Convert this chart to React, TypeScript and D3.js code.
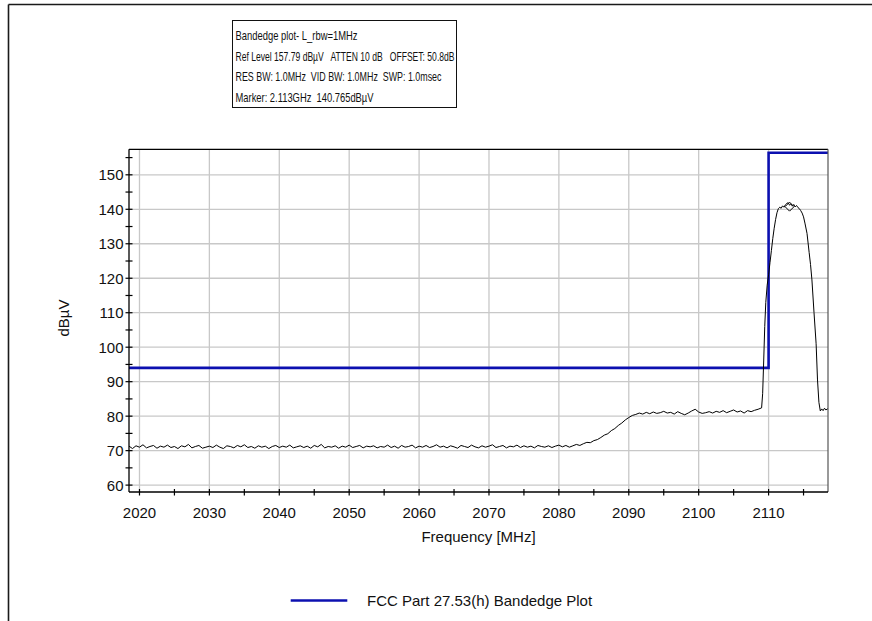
import React from 'react';
import * as d3 from 'd3';

const W = 872;
const H = 621;
const FONT = '"Liberation Sans", Arial, sans-serif';

// Axis setup
const xDomain: [number, number] = [2018.5, 2118.5];
const yDomain: [number, number] = [58.0, 157.4];
const xTicks = [2020, 2030, 2040, 2050, 2060, 2070, 2080, 2090, 2100, 2110];
const xMinorTicks = [2020, 2025, 2030, 2035, 2040, 2045, 2050, 2055, 2060, 2065, 2070, 2075, 2080, 2085, 2090, 2095, 2100, 2105, 2110, 2115];
const yTicks = [60, 70, 80, 90, 100, 110, 120, 130, 140, 150];
const yMinorTicks = [60, 65, 70, 75, 80, 85, 90, 95, 100, 105, 110, 115, 120, 125, 130, 135, 140, 145, 150, 155];

// Measured trace: noise floor and out-of-band region, 0.5 MHz sweep points
const floorStart = 2018.5;
const floorStep = 0.5;
const floorLevels = [
  71.3, 70.6, 71.4, 71.0, 71.7, 70.8, 71.2, 71.5, 70.7, 71.3,
  71.0, 71.6, 70.9, 71.2, 70.6, 71.4, 71.1, 71.8, 70.8, 71.2,
  71.5, 70.7, 71.0, 71.3, 70.9, 71.6, 71.0, 70.6, 71.4, 71.2,
  70.8, 71.5, 71.1, 71.7, 70.9, 71.2, 70.7, 71.4, 71.0, 71.3,
  70.6, 71.2, 71.5, 70.9, 71.3, 71.0, 71.6, 70.8, 71.1, 71.4,
  70.9, 71.3, 70.7, 71.5, 71.1, 71.8, 70.8, 71.2, 71.0, 71.4,
  70.7, 71.3, 71.0, 71.6, 70.9, 71.2, 71.5, 70.8, 71.3, 71.1,
  71.4, 70.8, 71.2, 71.0, 71.6, 70.9, 71.3, 70.7, 71.5, 71.0,
  71.2, 71.6, 70.8, 71.3, 71.0, 71.5, 70.9, 71.2, 71.7, 71.0,
  71.3, 70.8, 71.4, 71.1, 70.7, 71.5, 71.2, 70.9, 71.6, 71.1,
  70.8, 71.4, 71.0, 71.3, 71.7, 70.9, 71.2, 71.5, 70.8, 71.3,
  71.1, 71.6, 70.9, 71.4, 71.0, 71.3, 70.8, 71.5, 71.2, 71.0,
  71.4, 70.9, 71.3, 71.6, 71.1, 71.5, 71.0, 71.4, 71.8, 71.5,
  72.0, 72.4, 72.3, 72.9, 73.2, 73.8, 74.5, 74.9, 75.8, 76.4,
  77.3, 78.0, 78.9, 79.6, 80.2, 80.5, 80.9, 80.6, 81.1, 80.7,
  81.2, 80.8, 81.0, 81.4, 80.9, 81.1, 80.6, 81.3, 80.8, 80.4,
  80.9, 81.5, 82.0, 81.2, 80.8, 81.0, 81.3, 80.9, 81.4, 81.1,
  81.6, 81.0, 81.4, 81.8, 81.2, 81.5, 80.9, 81.6, 81.3, 81.7,
  82.0, 82.4,
];

// Carrier region, finer sweep points [MHz, dBµV]
const carrierTrace: [number, number][] = [
  [2109.15, 86.5], [2109.3, 96.0], [2109.45, 106.0], [2109.6, 113.0], [2109.8, 118.0],
  [2110.0, 121.0], [2110.2, 124.5], [2110.4, 128.0], [2110.6, 131.5], [2110.8, 134.5],
  [2111.0, 137.0], [2111.2, 139.0], [2111.4, 140.2], [2111.6, 140.6], [2111.8, 140.3],
  [2112.0, 141.0], [2112.2, 140.6], [2112.4, 141.3], [2112.6, 141.7], [2112.8, 141.9],
  [2113.0, 141.2], [2113.2, 141.6], [2113.4, 140.9], [2113.6, 141.4], [2113.8, 140.7],
  [2114.0, 141.1], [2114.2, 140.5], [2114.4, 140.2], [2114.6, 139.6], [2114.8, 138.9],
  [2115.0, 137.8], [2115.2, 136.0], [2115.5, 133.0], [2115.8, 127.5], [2116.0, 124.0],
  [2116.2, 119.5], [2116.5, 110.0], [2116.8, 101.0], [2117.0, 90.5], [2117.2, 84.0],
  [2117.4, 81.5], [2117.6, 82.1], [2117.8, 81.6], [2118.0, 82.3], [2118.2, 81.8],
  [2118.5, 82.2],
];

// FCC Part 27.53(h) limit [MHz, dBµV]
const limitLine: [number, number][] = [
  [2018.5, 94.0], [2110.0, 94.0], [2110.0, 156.4], [2118.5, 156.4],
];

const markerFreq = 2113.0;
const markerLevel = 140.765;

const infoLines = [
  'Bandedge plot- L_rbw=1MHz',
  'Ref Level 157.79 dBµV   ATTEN 10 dB   OFFSET: 50.8dB',
  'RES BW: 1.0MHz  VID BW: 1.0MHz  SWP: 1.0msec',
  'Marker: 2.113GHz  140.765dBµV',
];
const infoWidths = [122, 219, 206, 138];
const legendLabel = 'FCC Part 27.53(h) Bandedge Plot';
const xTitle = 'Frequency [MHz]';
const yTitle = 'dBµV';

const plot = { left: 129, right: 828, top: 149.3, bottom: 492 };
const limitColor = '#0c10b0';

export default function App() {
  const x = d3.scaleLinear().domain(xDomain).range([plot.left, plot.right]);
  const y = d3.scaleLinear().domain(yDomain).range([plot.bottom, plot.top]);

  const trace: [number, number][] = floorLevels
    .map((v, i) => [floorStart + i * floorStep, v] as [number, number])
    .concat(carrierTrace);

  const line = d3
    .line<[number, number]>()
    .x((d) => x(d[0]))
    .y((d) => y(d[1]));

  const mx = x(markerFreq);
  const my = y(markerLevel);

  return (
    <svg
      width={W}
      height={H}
      style={{ position: 'absolute', left: 0, top: 0, background: '#fff' }}
      fontFamily={FONT}
    >
      <defs>
        <clipPath id="plotClip">
          <rect x={plot.left} y={plot.top} width={plot.right - plot.left} height={plot.bottom - plot.top} />
        </clipPath>
      </defs>

      {/* outer frame */}
      <line x1={8.5} y1={4.5} x2={W} y2={4.5} stroke="#1a1a1a" strokeWidth={1.6} />
      <line x1={8.5} y1={4.5} x2={8.5} y2={H} stroke="#1a1a1a" strokeWidth={1.6} />

      {/* info box */}
      <rect x={232.5} y={20.5} width={224} height={87} fill="#fff" stroke="#111" strokeWidth={1} />
      {infoLines.map((t, i) => (
        <text
          key={i}
          x={235.5}
          y={40 + i * 20.6}
          fontSize={13}
          fill="#111"
          textLength={infoWidths[i]}
          lengthAdjust="spacingAndGlyphs"
          style={{ whiteSpace: 'pre' }}
        >
          {t}
        </text>
      ))}

      {/* grid */}
      {xTicks.map((t) => (
        <line key={'gx' + t} x1={x(t)} x2={x(t)} y1={plot.top} y2={plot.bottom} stroke="#c8c8c8" strokeWidth={1.3} />
      ))}
      {yTicks.map((t) => (
        <line key={'gy' + t} x1={plot.left} x2={plot.right} y1={y(t)} y2={y(t)} stroke="#c8c8c8" strokeWidth={1.3} />
      ))}

      {/* limit line and trace */}
      <g clipPath="url(#plotClip)">
        <path d={line(limitLine) || ''} fill="none" stroke={limitColor} strokeWidth={2.6} />
        <path d={line(trace) || ''} fill="none" stroke="#000" strokeWidth={1} />
        <path
          d={`M${mx},${my - 4.5}L${mx + 4.5},${my}L${mx},${my + 4.5}L${mx - 4.5},${my}Z`}
          fill="none"
          stroke="#000"
          strokeWidth={1}
        />
      </g>

      {/* plot frame */}
      <line x1={plot.left} x2={plot.right} y1={plot.top} y2={plot.top} stroke="#000" strokeWidth={1.2} />
      <line x1={plot.right} x2={plot.right} y1={plot.top} y2={plot.bottom} stroke="#555" strokeWidth={1.2} />
      <line x1={plot.left} x2={plot.left} y1={plot.top} y2={plot.bottom} stroke="#000" strokeWidth={1.3} />
      <line x1={plot.left} x2={plot.right} y1={plot.bottom} y2={plot.bottom} stroke="#000" strokeWidth={1.3} />

      {/* y ticks */}
      {yMinorTicks.map((t) => (
        <line key={'ty' + t} x1={plot.left - 3.5} x2={plot.left + 3.5} y1={y(t)} y2={y(t)} stroke="#000" strokeWidth={1.2} />
      ))}
      {yTicks.map((t) => (
        <text key={'ly' + t} x={123.5} y={y(t)} dy="0.36em" textAnchor="end" fontSize={15} fill="#111">
          {t}
        </text>
      ))}

      {/* x ticks */}
      {xMinorTicks.map((t) => (
        <line key={'tx' + t} x1={x(t)} x2={x(t)} y1={plot.bottom - 3} y2={plot.bottom + 3.5} stroke="#000" strokeWidth={1.2} />
      ))}
      {xTicks.map((t) => (
        <text key={'lx' + t} x={x(t)} y={518} textAnchor="middle" fontSize={15} fill="#111">
          {t}
        </text>
      ))}

      {/* axis titles */}
      <text x={(plot.left + plot.right) / 2} y={542} textAnchor="middle" fontSize={15} fill="#111">
        {xTitle}
      </text>
      <text transform={`translate(69,318) rotate(-90)`} textAnchor="middle" fontSize={15} fill="#111">
        {yTitle}
      </text>

      {/* legend */}
      <line x1={290.7} x2={347.3} y1={600.5} y2={600.5} stroke={limitColor} strokeWidth={2.6} />
      <text x={367} y={606} fontSize={15} fill="#111">
        {legendLabel}
      </text>
    </svg>
  );
}
